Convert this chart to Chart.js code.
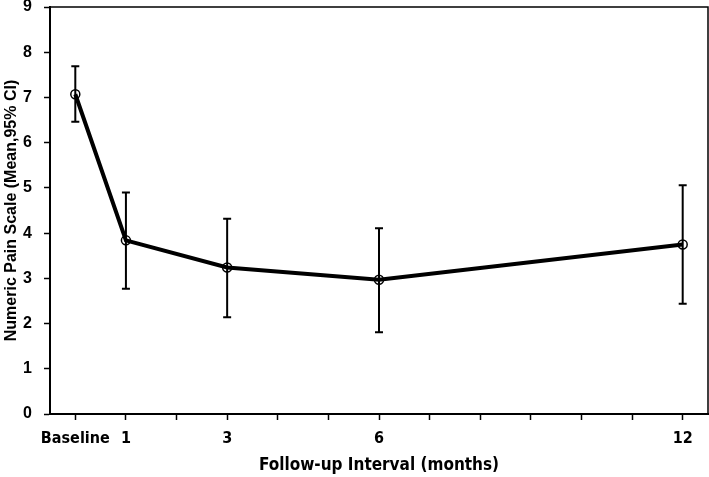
<!DOCTYPE html>
<html>
<head>
<meta charset="utf-8">
<script src="https://cdn.jsdelivr.net/npm/chart.js@4.4.1/dist/chart.umd.min.js"></script>
<style>
  html, body { margin: 0; padding: 0; background: #fff; }
  #wrap { width: 709px; height: 477px; }
</style>
</head>
<body>
<div id="wrap"><canvas id="painChart"></canvas></div>
<script>
// months after treatment (0 = baseline)
const months = [0, 1, 3, 6, 12];
const meanPain = [7.07, 3.84, 3.24, 2.97, 3.75];
const ciLower = [6.46, 2.77, 2.14, 1.81, 2.44];
const ciUpper = [7.69, 4.90, 4.32, 4.11, 5.06];
const xTicks = [0, 1, 2, 3, 4, 5, 6, 7, 8, 9, 10, 11, 12];
const xLabels = { 0: 'Baseline', 1: '1', 3: '3', 6: '6', 12: '12' };
const yTicks = [0, 1, 2, 3, 4, 5, 6, 7, 8, 9];

const condensed = "'Liberation Sans Narrow', 'DejaVu Sans Condensed', sans-serif";

// error bars + top/right frame
const errorBars = {
    id: 'errorBars',
    beforeDatasetsDraw(chart) {
        const { ctx, scales: { x, y } } = chart;
        ctx.save();
        ctx.strokeStyle = '#000';
        ctx.lineWidth = 2;
        months.forEach((m, i) => {
            const px = x.getPixelForValue(m);
            const lo = y.getPixelForValue(ciLower[i]);
            const hi = y.getPixelForValue(ciUpper[i]);
            ctx.beginPath();
            ctx.moveTo(px, lo); ctx.lineTo(px, hi);
            ctx.moveTo(px - 4, lo); ctx.lineTo(px + 4, lo);
            ctx.moveTo(px - 4, hi); ctx.lineTo(px + 4, hi);
            ctx.stroke();
        });
        ctx.restore();
    },
    afterDraw(chart) {
        const { ctx, chartArea: a } = chart;
        ctx.save();
        ctx.strokeStyle = '#000';
        ctx.lineWidth = 1.5;
        ctx.beginPath();
        ctx.moveTo(a.left, a.top); ctx.lineTo(a.right, a.top); ctx.lineTo(a.right, a.bottom);
        ctx.stroke();
        ctx.restore();
    }
};

const noPad = s => { s.paddingTop = 0; s.paddingBottom = 0; s.paddingLeft = 0; s.paddingRight = 0; };

new Chart(document.getElementById('painChart'), {
    type: 'line',
    data: {
        datasets: [{
            data: months.map((m, i) => ({ x: m, y: meanPain[i] })),
            borderColor: '#000',
            borderWidth: 4,
            pointRadius: 4.5,
            pointBorderWidth: 1.5,
            pointBorderColor: '#000',
            pointBackgroundColor: 'rgba(0,0,0,0)',
            fill: false,
            tension: 0,
            clip: false
        }]
    },
    options: {
        responsive: true,
        maintainAspectRatio: false,
        animation: false,
        layout: { autoPadding: false, padding: { top: 7, right: 1, left: 0, bottom: 0 } },
        plugins: {
            legend: { display: false },
            tooltip: { enabled: false }
        },
        scales: {
            x: {
                type: 'linear',
                min: -0.5,
                max: 12.5,
                afterFit: s => { s.height = 63; noPad(s); },
                afterBuildTicks: s => { s.ticks = xTicks.map(v => ({ value: v })); },
                border: { color: '#000', width: 2 },
                grid: { drawOnChartArea: false, tickLength: 6, tickColor: '#000', tickWidth: 1.5 },
                ticks: {
                    autoSkip: false,
                    maxRotation: 0,
                    padding: 9,
                    color: '#000',
                    font: { family: condensed, size: 16, weight: 'bold' },
                    callback: v => xLabels[v] || ''
                },
                title: {
                    display: true,
                    text: 'Follow-up Interval (months)',
                    color: '#000',
                    padding: { top: 0, bottom: 1 },
                    font: { family: condensed, size: 17, weight: 'bold' }
                }
            },
            y: {
                min: 0,
                max: 9,
                afterFit: s => { s.width = 50; noPad(s); },
                afterBuildTicks: s => { s.ticks = yTicks.map(v => ({ value: v })); },
                border: { color: '#000', width: 2 },
                grid: { drawOnChartArea: false, tickLength: 6, tickColor: '#000', tickWidth: 1.5 },
                ticks: {
                    padding: 12,
                    color: '#000',
                    font: { family: "'Liberation Sans', Arial, sans-serif", size: 16, weight: 'bold' }
                },
                title: {
                    display: true,
                    text: 'Numeric Pain Scale (Mean,95% CI)',
                    color: '#000',
                    padding: { top: 2, bottom: 0 },
                    font: { family: "'Liberation Sans', Arial, sans-serif", size: 16, weight: 'bold' }
                }
            }
        }
    },
    plugins: [errorBars]
});
</script>
</body>
</html>
